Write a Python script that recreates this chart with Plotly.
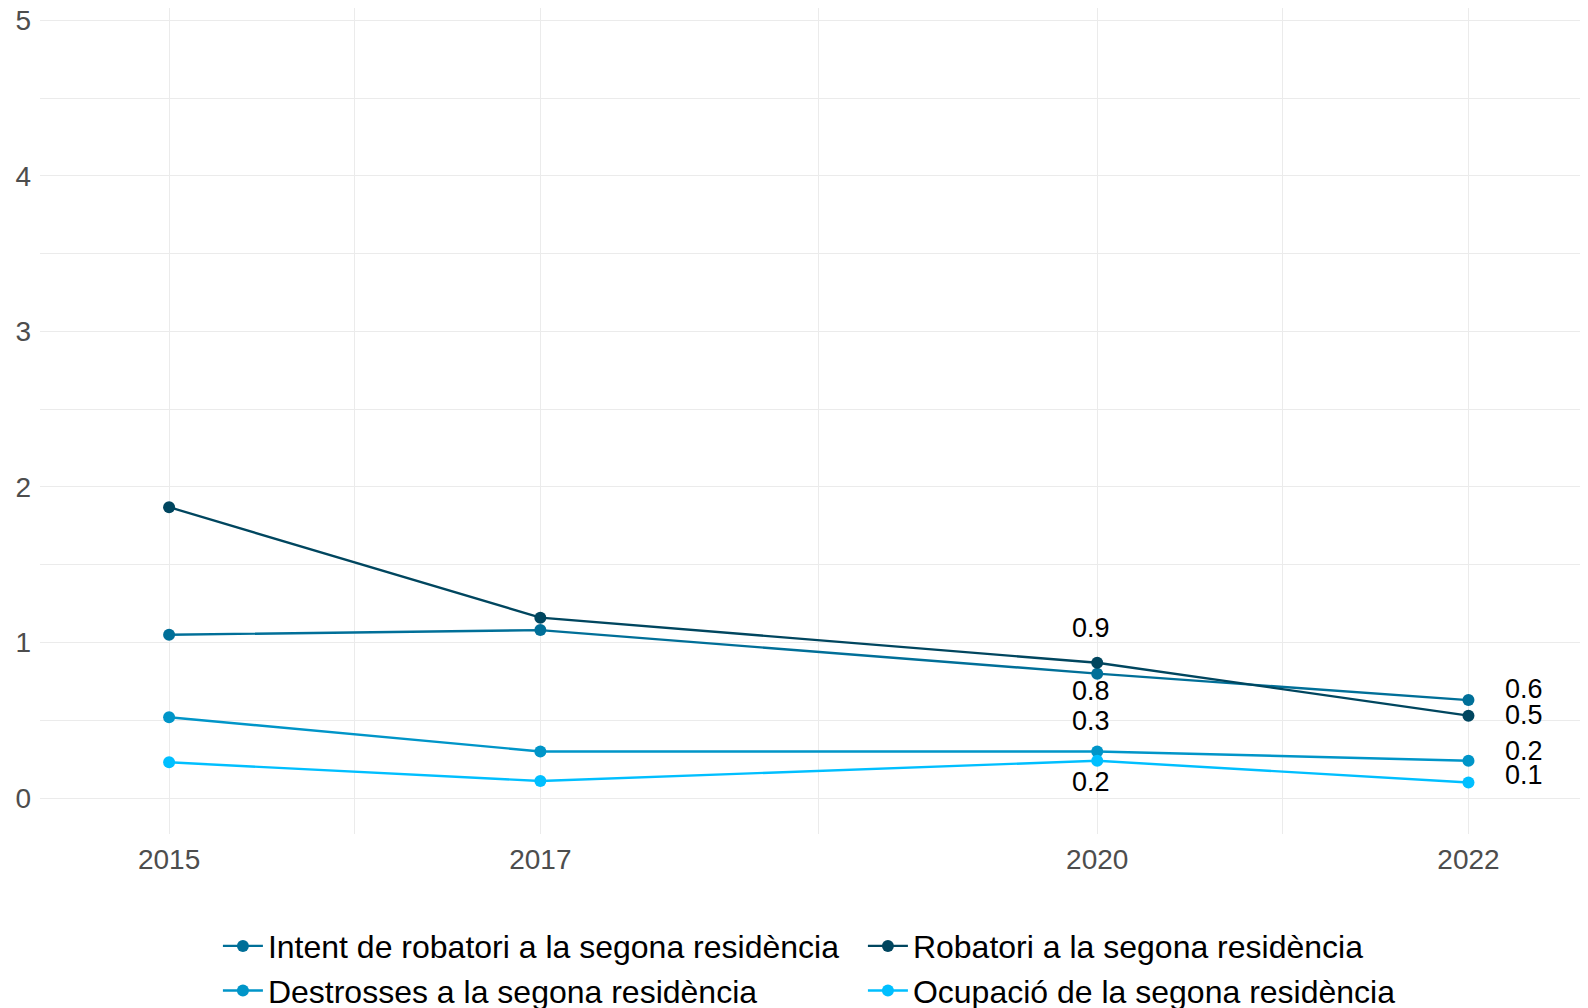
import plotly.graph_objects as go

years = [2015, 2017, 2020, 2022]

series_names = [
    "Intent de robatori a la segona residència",
    "Robatori a la segona residència",
    "Destrosses a la segona residència",
    "Ocupació de la segona residència",
]
intent = [1.05, 1.08, 0.80, 0.63]
robatori = [1.87, 1.16, 0.87, 0.53]
destrosses = [0.52, 0.30, 0.30, 0.24]
ocupacio = [0.23, 0.11, 0.24, 0.10]

series_values = [intent, robatori, destrosses, ocupacio]
colors = ["#006F98", "#00465F", "#0095C8", "#00BFFF"]

# label offsets in px: (yshift at 2020, yshift at 2022)
label_shift_2020 = [-17, 35, 30, -21]
label_shift_2022 = [11, 1, 10, 8]

FONT = "Liberation Sans, Arial, sans-serif"

fig = go.Figure()
for name, vals, col in zip(series_names, series_values, colors):
    fig.add_trace(go.Scatter(
        x=years, y=vals, name=name, mode="lines+markers",
        line=dict(color=col, width=2.4),
        marker=dict(color=col, size=12),
    ))

for vals, s20, s22 in zip(series_values, label_shift_2020, label_shift_2022):
    fig.add_annotation(x=years[2], y=vals[2], text=f"{vals[2]:.1f}", showarrow=False,
                       yshift=s20, xshift=-6, font=dict(size=27, color="black", family=FONT))
    fig.add_annotation(x=years[3], y=vals[3], text=f"{vals[3]:.1f}", showarrow=False,
                       yshift=s22, xshift=56, font=dict(size=27, color="black", family=FONT))

grid = "#EBEBEB"
fig.update_xaxes(
    range=[2014.3045, 2022.644], tickvals=years, ticktext=[str(y) for y in years],
    showgrid=True, gridcolor=grid, gridwidth=1.2, zeroline=False, showline=False,
    ticks="", ticklabelstandoff=6, tickfont=dict(size=28, color="#4D4D4D", family=FONT),
    minor=dict(tickvals=[2016, 2018.5, 2021], showgrid=True, gridcolor=grid, gridwidth=1),
)
fig.update_yaxes(
    range=[-0.2308, 5.079], tickvals=[0, 1, 2, 3, 4, 5],
    showgrid=True, gridcolor=grid, gridwidth=1.2, zeroline=False, showline=False,
    ticks="", ticklabelstandoff=8, ticklabeloverflow="allow", automargin=False,
    tickfont=dict(size=28, color="#4D4D4D", family=FONT),
    minor=dict(dtick=0.5, showgrid=True, gridcolor=grid, gridwidth=1),
)

# page body has an 8px margin; figure is sized so the visible window matches the reference
fig.update_layout(
    width=1580, height=1040,
    plot_bgcolor="white", paper_bgcolor="white",
    font=dict(family=FONT),
    margin=dict(l=32, r=0, t=0, b=214),
    showlegend=True,
    legend=dict(
        orientation="h", x=0.5316, xanchor="center", y=-0.1024, yanchor="top",
        entrywidth=590, font=dict(size=32, color="black", family=FONT),
        itemwidth=40, tracegroupgap=0,
    ),
)

fig.write_html("out.html")
